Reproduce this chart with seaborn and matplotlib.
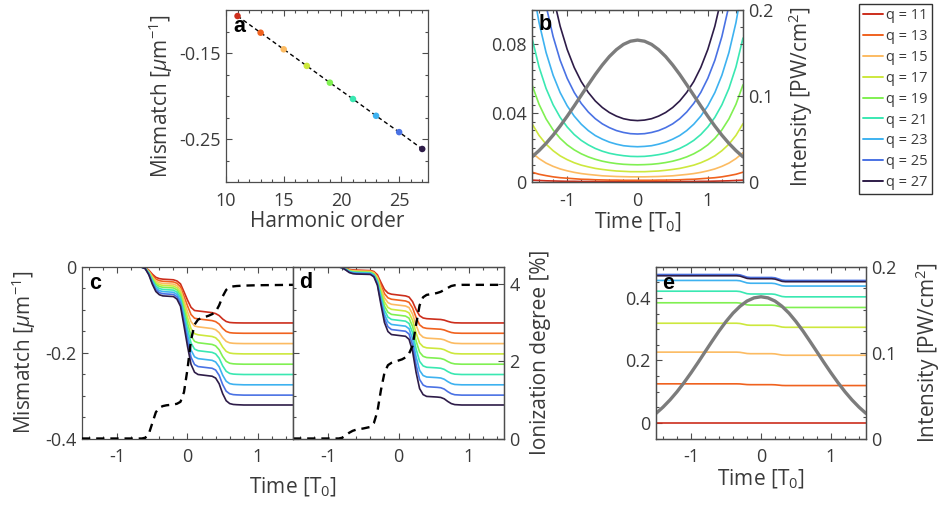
import matplotlib
matplotlib.use("Agg")
import matplotlib.pyplot as plt
import seaborn as sns
import pandas as pd
from matplotlib.lines import Line2D
from matplotlib.ticker import MultipleLocator, FixedLocator, FuncFormatter

# ---------------- data ----------------
harmonics = [11, 13, 15, 17, 19, 21, 23, 25, 27]
colors = ["#cc2e1c", "#f0621f", "#fcbb62", "#cde83d", "#80f052",
          "#3ae8b2", "#3eb2f0", "#4a72e4", "#2e1c48"]
legend_labels = ["q = 11", "q = 13", "q = 15", "q = 17", "q = 19",
                 "q = 21", "q = 23", "q = 25", "q = 27"]

# panel a : mismatch vs harmonic order
mismatch_a = [-0.107, -0.1264, -0.1457, -0.165, -0.1845, -0.2035, -0.223, -0.242, -0.2616]

# panel b : mismatch vs time (neutral), intensity
time_b = [-1.5, -1.4, -1.3, -1.2, -1.1, -1.0, -0.9, -0.8, -0.7, -0.6, -0.5, -0.4, -0.3, -0.2, -0.1,
          0.0, 0.1, 0.2, 0.3, 0.4, 0.5, 0.6, 0.7, 0.8, 0.9, 1.0, 1.1, 1.2, 1.3, 1.4, 1.5]
b_11 = [0.0011, 0.0009, 0.0007, 0.0006, 0.0005, 0.0004, 0.0004, 0.0003, 0.0003, 0.0003, 0.0002, 0.0002, 0.0002, 0.0002, 0.0002,
        0.0002, 0.0002, 0.0002, 0.0002, 0.0002, 0.0002, 0.0003, 0.0003, 0.0003, 0.0004, 0.0004, 0.0005, 0.0006, 0.0007, 0.0009, 0.0011]
b_13 = [0.0057, 0.0045, 0.0037, 0.0030, 0.0025, 0.0022, 0.0019, 0.0016, 0.0015, 0.0013, 0.0012, 0.0011, 0.0011, 0.0010, 0.0010,
        0.0010, 0.0010, 0.0010, 0.0011, 0.0011, 0.0012, 0.0013, 0.0015, 0.0016, 0.0019, 0.0022, 0.0025, 0.0030, 0.0037, 0.0045, 0.0057]
b_15 = [0.0170, 0.0136, 0.0110, 0.0091, 0.0076, 0.0065, 0.0056, 0.0049, 0.0044, 0.0040, 0.0036, 0.0034, 0.0032, 0.0031, 0.0030,
        0.0030, 0.0030, 0.0031, 0.0032, 0.0034, 0.0036, 0.0040, 0.0044, 0.0049, 0.0056, 0.0065, 0.0076, 0.0091, 0.0110, 0.0136, 0.0170]
b_17 = [0.0339, 0.0271, 0.0220, 0.0182, 0.0152, 0.0130, 0.0112, 0.0098, 0.0088, 0.0079, 0.0073, 0.0068, 0.0064, 0.0062, 0.0060,
        0.0060, 0.0060, 0.0062, 0.0064, 0.0068, 0.0073, 0.0079, 0.0088, 0.0098, 0.0112, 0.0130, 0.0152, 0.0182, 0.0220, 0.0271, 0.0339]
b_19 = [0.0565, 0.0452, 0.0367, 0.0303, 0.0254, 0.0216, 0.0187, 0.0164, 0.0146, 0.0132, 0.0121, 0.0113, 0.0107, 0.0103, 0.0101,
        0.0100, 0.0101, 0.0103, 0.0107, 0.0113, 0.0121, 0.0132, 0.0146, 0.0164, 0.0187, 0.0216, 0.0254, 0.0303, 0.0367, 0.0452, 0.0565]
b_21 = [0.0837, 0.0669, 0.0544, 0.0449, 0.0376, 0.0320, 0.0276, 0.0242, 0.0216, 0.0195, 0.0179, 0.0167, 0.0159, 0.0153, 0.0149,
        0.0148, 0.0149, 0.0153, 0.0159, 0.0167, 0.0179, 0.0195, 0.0216, 0.0242, 0.0276, 0.0320, 0.0376, 0.0449, 0.0544, 0.0669, 0.0837]
b_23 = [0.1159, 0.0927, 0.0753, 0.0621, 0.0520, 0.0443, 0.0383, 0.0336, 0.0299, 0.0270, 0.0249, 0.0232, 0.0220, 0.0211, 0.0207,
        0.0205, 0.0207, 0.0211, 0.0220, 0.0232, 0.0249, 0.0270, 0.0299, 0.0336, 0.0383, 0.0443, 0.0520, 0.0621, 0.0753, 0.0927, 0.1159]
b_25 = [0.1578, 0.1262, 0.1025, 0.0846, 0.0708, 0.0603, 0.0521, 0.0457, 0.0407, 0.0368, 0.0338, 0.0316, 0.0299, 0.0288, 0.0281,
        0.0279, 0.0281, 0.0288, 0.0299, 0.0316, 0.0338, 0.0368, 0.0407, 0.0457, 0.0521, 0.0603, 0.0708, 0.0846, 0.1025, 0.1262, 0.1578]
b_27 = [0.2019, 0.1615, 0.1312, 0.1082, 0.0906, 0.0771, 0.0666, 0.0584, 0.0521, 0.0471, 0.0433, 0.0404, 0.0383, 0.0368, 0.0360,
        0.0357, 0.0360, 0.0368, 0.0383, 0.0404, 0.0433, 0.0471, 0.0521, 0.0584, 0.0666, 0.0771, 0.0906, 0.1082, 0.1312, 0.1615, 0.2019]
intensity = [0.0292, 0.0365, 0.0449, 0.0544, 0.0650, 0.0764, 0.0884, 0.1008, 0.1131, 0.1251, 0.1361, 0.1459, 0.1539, 0.1600, 0.1637,
             0.1650, 0.1637, 0.1600, 0.1539, 0.1459, 0.1361, 0.1251, 0.1131, 0.1008, 0.0884, 0.0764, 0.0650, 0.0544, 0.0449, 0.0365, 0.0292]

# panel c : mismatch with ionization (case 1)
time_c = [-1.5, -0.7, -0.65, -0.6, -0.55, -0.5, -0.45, -0.4, -0.35, -0.3, -0.25, -0.2, -0.15, -0.1, -0.05, 0.0, 0.05,
          0.1, 0.15, 0.2, 0.25, 0.3, 0.35, 0.4, 0.45, 0.5, 0.55, 0.6, 0.65, 0.7, 0.8, 1.0, 1.5]
c_11 = [0, 0, -0.0006, -0.002, -0.0081, -0.0174, -0.0247, -0.0278, -0.029, -0.0295, -0.030, -0.0305, -0.0332, -0.0399, -0.0584, -0.0776, -0.0946,
        -0.1020, -0.103, -0.104, -0.105, -0.106, -0.107, -0.1092, -0.1138, -0.1218, -0.1276, -0.1299, -0.1305, -0.1308, -0.131, -0.131, -0.131]
c_13 = [0, 0, -0.0007, -0.0024, -0.0095, -0.0204, -0.0289, -0.0326, -0.034, -0.0345, -0.035, -0.0355, -0.0386, -0.0465, -0.0684, -0.0911, -0.1113,
        -0.1200, -0.1215, -0.1225, -0.1235, -0.1245, -0.1255, -0.1279, -0.1336, -0.1436, -0.1507, -0.1536, -0.1544, -0.1547, -0.155, -0.155, -0.155]
c_15 = [0, 0, -0.0008, -0.0027, -0.0109, -0.0234, -0.0332, -0.0374, -0.039, -0.0395, -0.040, -0.0405, -0.044, -0.0531, -0.0784, -0.1046, -0.1279,
        -0.138, -0.140, -0.141, -0.142, -0.143, -0.144, -0.1467, -0.1535, -0.1654, -0.1739, -0.1773, -0.1783, -0.1787, -0.179, -0.179, -0.179]
c_17 = [0, 0, -0.0009, -0.003, -0.0122, -0.0261, -0.037, -0.0418, -0.0435, -0.044, -0.0445, -0.045, -0.049, -0.0593, -0.0881, -0.118, -0.1444,
        -0.1559, -0.1585, -0.1595, -0.1605, -0.1615, -0.1625, -0.1655, -0.1734, -0.1872, -0.1971, -0.201, -0.2022, -0.2026, -0.203, -0.203, -0.203]
c_19 = [0, 0, -0.001, -0.0034, -0.0134, -0.0288, -0.0408, -0.0461, -0.048, -0.0485, -0.049, -0.0495, -0.0539, -0.0655, -0.0977, -0.1313, -0.1609,
        -0.1738, -0.177, -0.178, -0.179, -0.180, -0.181, -0.1843, -0.1933, -0.209, -0.2203, -0.2248, -0.2261, -0.2266, -0.227, -0.227, -0.227]
c_21 = [0, 0, -0.0011, -0.0037, -0.0148, -0.0318, -0.0451, -0.0509, -0.053, -0.0535, -0.054, -0.0545, -0.0593, -0.0721, -0.1077, -0.1448, -0.1776,
        -0.1918, -0.1955, -0.1965, -0.1975, -0.1985, -0.1995, -0.203, -0.2131, -0.2308, -0.2434, -0.2485, -0.250, -0.2505, -0.251, -0.251, -0.251]
c_23 = [0, 0, -0.0012, -0.0041, -0.0162, -0.0348, -0.0493, -0.0557, -0.058, -0.0585, -0.059, -0.0595, -0.0647, -0.0787, -0.1177, -0.1583, -0.1942,
        -0.2098, -0.214, -0.215, -0.216, -0.217, -0.218, -0.2218, -0.233, -0.2526, -0.2666, -0.2722, -0.2739, -0.2744, -0.275, -0.275, -0.275]
c_25 = [0, 0, -0.0013, -0.0044, -0.0176, -0.0378, -0.0536, -0.0605, -0.063, -0.0635, -0.064, -0.0645, -0.0701, -0.0853, -0.1277, -0.1718, -0.2108,
        -0.2277, -0.2325, -0.2335, -0.2345, -0.2355, -0.2365, -0.2406, -0.2529, -0.2744, -0.2898, -0.2959, -0.2978, -0.2984, -0.299, -0.299, -0.299]
c_27 = [0, 0, -0.0014, -0.0048, -0.019, -0.0408, -0.0578, -0.0653, -0.068, -0.0685, -0.069, -0.0695, -0.0755, -0.092, -0.1377, -0.1853, -0.2274,
        -0.2457, -0.251, -0.252, -0.253, -0.254, -0.255, -0.2593, -0.2725, -0.2956, -0.3121, -0.3187, -0.3207, -0.3213, -0.322, -0.322, -0.322]
ion_c = [0, 0, 0, 0.02, 0.12, 0.4, 0.68, 0.8, 0.84, 0.86, 0.87, 0.88, 0.9, 0.95, 1.2, 1.8, 2.55,
         2.95, 3.08, 3.12, 3.15, 3.18, 3.22, 3.28, 3.45, 3.68, 3.85, 3.92, 3.94, 3.95, 3.96, 3.97, 3.98]

# panel d : mismatch with ionization (case 2)
time_d = [-1.5, -0.9, -0.85, -0.8, -0.75, -0.7, -0.65, -0.6, -0.5, -0.4, -0.35, -0.3, -0.25, -0.2, -0.15, -0.1, -0.05, 0.0,
          0.05, 0.1, 0.15, 0.2, 0.25, 0.3, 0.35, 0.4, 0.5, 0.55, 0.6, 0.65, 0.7, 0.75, 0.8, 0.9, 1.5]
d_11 = [0, 0, -0.0002, -0.0012, -0.0036, -0.0064, -0.0076, -0.008, -0.0085, -0.009, -0.0112, -0.0189, -0.0365, -0.053, -0.0613, -0.064, -0.065, -0.066,
        -0.067, -0.068, -0.0707, -0.0813, -0.0998, -0.1141, -0.1194, -0.121, -0.122, -0.1225, -0.1229, -0.1244, -0.1272, -0.1295, -0.1306, -0.131, -0.131]
d_13 = [0, 0, -0.0003, -0.0014, -0.0041, -0.0072, -0.0086, -0.009, -0.0095, -0.010, -0.0126, -0.0218, -0.0429, -0.0626, -0.0725, -0.0758, -0.0768, -0.0778,
        -0.0788, -0.0798, -0.083, -0.0958, -0.1181, -0.1353, -0.1417, -0.1436, -0.1446, -0.1451, -0.1456, -0.1473, -0.1505, -0.1532, -0.1545, -0.155, -0.155]
d_15 = [0, 0, -0.0003, -0.0015, -0.0045, -0.008, -0.0095, -0.010, -0.0105, -0.011, -0.0141, -0.0248, -0.0493, -0.0722, -0.0837, -0.0875, -0.0885, -0.0895,
        -0.0905, -0.0915, -0.0952, -0.1102, -0.1364, -0.1566, -0.1641, -0.1663, -0.1673, -0.1678, -0.1684, -0.1703, -0.174, -0.177, -0.1784, -0.179, -0.179]
d_17 = [0, 0, -0.0003, -0.0017, -0.0052, -0.0092, -0.0109, -0.0115, -0.012, -0.0125, -0.016, -0.0281, -0.0559, -0.0819, -0.095, -0.0993, -0.1003, -0.1013,
        -0.1023, -0.1033, -0.1076, -0.1247, -0.1547, -0.1778, -0.1863, -0.1889, -0.1899, -0.1904, -0.191, -0.1932, -0.1973, -0.2007, -0.2024, -0.203, -0.203]
d_19 = [0, 0, -0.0004, -0.0019, -0.0056, -0.010, -0.0119, -0.0125, -0.013, -0.0135, -0.0174, -0.031, -0.0623, -0.0915, -0.1061, -0.111, -0.112, -0.113,
        -0.114, -0.115, -0.1198, -0.1391, -0.1729, -0.199, -0.2086, -0.2115, -0.2125, -0.213, -0.2137, -0.2161, -0.2207, -0.2245, -0.2263, -0.227, -0.227]
d_21 = [0, 0, -0.0004, -0.002, -0.0061, -0.0108, -0.0128, -0.0135, -0.014, -0.0145, -0.0188, -0.034, -0.0687, -0.1011, -0.1174, -0.1228, -0.1238, -0.1248,
        -0.1258, -0.1268, -0.1322, -0.1536, -0.1912, -0.2203, -0.2309, -0.2341, -0.2351, -0.2356, -0.2364, -0.239, -0.2441, -0.2482, -0.2502, -0.251, -0.251]
d_23 = [0, 0, -0.0004, -0.0022, -0.0065, -0.0116, -0.0138, -0.0145, -0.015, -0.0155, -0.0203, -0.0369, -0.075, -0.1107, -0.1286, -0.1345, -0.1355, -0.1365,
        -0.1375, -0.1385, -0.1444, -0.1681, -0.2095, -0.2414, -0.2533, -0.2568, -0.2578, -0.2583, -0.2591, -0.262, -0.2675, -0.272, -0.2742, -0.275, -0.275]
d_25 = [0, 0, -0.0005, -0.0024, -0.0072, -0.0128, -0.0152, -0.016, -0.0165, -0.017, -0.0222, -0.0403, -0.0817, -0.1204, -0.1398, -0.1463, -0.1473, -0.1483,
        -0.1493, -0.1503, -0.1568, -0.1826, -0.2278, -0.2626, -0.2755, -0.2794, -0.2804, -0.2809, -0.2818, -0.2849, -0.2909, -0.2957, -0.2981, -0.299, -0.299]
d_27 = [0, 0, -0.0005, -0.0026, -0.0077, -0.0136, -0.0162, -0.017, -0.0175, -0.018, -0.0236, -0.0432, -0.088, -0.130, -0.151, -0.158, -0.159, -0.160,
        -0.161, -0.162, -0.169, -0.197, -0.246, -0.2838, -0.2978, -0.302, -0.303, -0.3035, -0.3044, -0.3076, -0.3137, -0.3187, -0.3211, -0.322, -0.322]
ion_d = [0, 0, 0, 0.02, 0.08, 0.15, 0.2, 0.23, 0.26, 0.3, 0.4, 0.7, 1.25, 1.7, 1.9, 1.96, 1.99, 2.02,
         2.05, 2.1, 2.2, 2.4, 2.95, 3.45, 3.66, 3.72, 3.75, 3.77, 3.8, 3.85, 3.9, 3.95, 3.97, 3.98, 3.98]

# panel e : mismatch with pressure compensation
time_e = [-1.5, -0.35, -0.3, -0.25, -0.2, -0.15, 0.15, 0.2, 0.25, 0.3, 0.35, 1.5]
e_11 = [0, 0, 0, 0, 0, 0, 0, 0, 0, 0, 0, 0]
e_13 = [0.125, 0.125, 0.1247, 0.1236, 0.1226, 0.1223, 0.1223, 0.1219, 0.1209, 0.1198, 0.1195, 0.1195]
e_15 = [0.2265, 0.2265, 0.2259, 0.224, 0.2221, 0.2215, 0.2215, 0.2209, 0.219, 0.2171, 0.2165, 0.2165]
e_17 = [0.319, 0.319, 0.3182, 0.3158, 0.3133, 0.3125, 0.3125, 0.3117, 0.3093, 0.3068, 0.306, 0.306]
e_19 = [0.3845, 0.3845, 0.3836, 0.3808, 0.3779, 0.377, 0.377, 0.3761, 0.3733, 0.3704, 0.3695, 0.3695]
e_21 = [0.4216, 0.4216, 0.4205, 0.4171, 0.4136, 0.4126, 0.4126, 0.4115, 0.408, 0.4046, 0.4035, 0.4035]
e_23 = [0.456, 0.456, 0.4549, 0.4515, 0.4481, 0.447, 0.447, 0.4459, 0.4425, 0.4391, 0.438, 0.438]
e_25 = [0.475, 0.475, 0.4739, 0.4703, 0.4666, 0.4655, 0.4655, 0.4644, 0.4608, 0.4571, 0.456, 0.456]
e_27 = [0.471, 0.471, 0.4699, 0.4663, 0.4626, 0.4615, 0.4615, 0.4604, 0.4568, 0.4531, 0.452, 0.452]

curves_b = [b_11, b_13, b_15, b_17, b_19, b_21, b_23, b_25, b_27]
curves_c = [c_11, c_13, c_15, c_17, c_19, c_21, c_23, c_25, c_27]
curves_d = [d_11, d_13, d_15, d_17, d_19, d_21, d_23, d_25, d_27]
curves_e = [e_11, e_13, e_15, e_17, e_19, e_21, e_23, e_25, e_27]

# ---------------- style ----------------
sns.set_theme(style="ticks")
plt.rcParams["font.family"] = ["Open Sans", "DejaVu Sans"]
plt.rcParams["mathtext.fontset"] = "custom"
plt.rcParams["mathtext.rm"] = "Open Sans"
plt.rcParams["mathtext.it"] = "Open Sans:italic"
plt.rcParams["mathtext.bf"] = "Open Sans:bold"
plt.rcParams["axes.unicode_minus"] = False

TXT = "#3a3a3a"
SP = "#4d4d4d"
TICK = 13
LAB = 15
GRAY = "#7c7c7c"
palette = dict(zip(harmonics, colors))
fmt = FuncFormatter(lambda v, p: "%g" % round(v, 6))

fig = plt.figure(figsize=(9.45, 5.11), dpi=100)
W, H = 945.0, 511.0


def box(x0, y0, x1, y1):
    return [x0 / W, 1 - y1 / H, (x1 - x0) / W, (y1 - y0) / H]


def long_df(times, curves):
    return pd.concat([pd.DataFrame({"t": times, "v": c, "q": q})
                      for q, c in zip(harmonics, curves)], ignore_index=True)


def style(ax, left=True, right=True, top=True, bottom=True):
    for s in ax.spines.values():
        s.set_color(SP)
        s.set_linewidth(0.9)
    ax.tick_params(which="both", direction="in", left=left, right=right, top=top, bottom=bottom,
                   color=SP, labelcolor=TXT, labelsize=TICK, width=0.8)
    ax.tick_params(axis="x", pad=7)
    ax.tick_params(axis="y", pad=4)
    ax.tick_params(which="major", length=4)
    ax.tick_params(which="minor", length=2.5)
    ax.xaxis.set_major_formatter(fmt)
    ax.yaxis.set_major_formatter(fmt)


def time_axis(ax):
    ax.set_xlim(-1.5, 1.5)
    ax.xaxis.set_major_locator(FixedLocator([-1, 0, 1]))
    ax.xaxis.set_minor_locator(MultipleLocator(0.2))


def letter(ax, x, y, s):
    ax.text(x, y, s, transform=ax.transAxes, fontsize=15.5, fontweight="bold",
            family="Liberation Sans", ha="center", va="center", color="black", zorder=10)


# ---------------- panel a ----------------
ax_a = fig.add_axes(box(226, 10, 428, 182))
df_a = pd.DataFrame({"q": harmonics, "m": mismatch_a})
sns.lineplot(data=df_a, x="q", y="m", color="black", linestyle=(0, (3, 2.2)), linewidth=1.0, ax=ax_a)
sns.scatterplot(data=df_a, x="q", y="m", hue="q", palette=palette, s=22, edgecolor="none",
                legend=False, ax=ax_a, zorder=3)
ax_a.set_xlim(10, 27.5)
ax_a.set_ylim(-0.3, -0.1)
ax_a.xaxis.set_major_locator(FixedLocator([10, 15, 20, 25]))
ax_a.xaxis.set_minor_locator(MultipleLocator(1))
ax_a.yaxis.set_major_locator(FixedLocator([-0.15, -0.25]))
ax_a.yaxis.set_minor_locator(MultipleLocator(0.025))
style(ax_a)
ax_a.set_xlabel("Harmonic order", fontsize=LAB, color=TXT, labelpad=1)
ax_a.set_ylabel("Mismatch [$\\mu$m$^{-1}$]", fontsize=LAB, color=TXT, labelpad=3)
letter(ax_a, 0.064, 0.905, "a")

# ---------------- panel b ----------------
ax_b = fig.add_axes(box(532, 10, 743, 182))
sns.lineplot(data=long_df(time_b, curves_b), x="t", y="v", hue="q", palette=palette,
             linewidth=1.2, legend=False, ax=ax_b, sort=False, estimator=None)
time_axis(ax_b)
ax_b.set_ylim(0, 0.1)
ax_b.yaxis.set_major_locator(FixedLocator([0, 0.04, 0.08]))
ax_b.yaxis.set_minor_locator(MultipleLocator(0.005))
style(ax_b, right=False)
ax_b.set_xlabel("Time [T$_0$]", fontsize=LAB, color=TXT, labelpad=1)
ax_b.set_ylabel("")
tb = ax_b.twinx()
sns.lineplot(x=time_b, y=intensity, color=GRAY, linewidth=2.4, ax=tb)
tb.set_ylim(0, 0.2)
tb.yaxis.set_major_locator(FixedLocator([0, 0.1, 0.2]))
tb.yaxis.set_minor_locator(MultipleLocator(0.02))
style(tb, left=False, top=False, bottom=False)
tb.set_ylabel("Intensity [PW/cm$^2$]", fontsize=LAB, color=TXT, labelpad=9)
letter(ax_b, 0.064, 0.915, "b")

# ---------------- panel c ----------------
ax_c = fig.add_axes(box(82, 266.7, 293, 438.5))
sns.lineplot(data=long_df(time_c, curves_c), x="t", y="v", hue="q", palette=palette,
             linewidth=1.2, legend=False, ax=ax_c, sort=False, estimator=None)
time_axis(ax_c)
ax_c.set_ylim(-0.4, 0)
ax_c.yaxis.set_major_locator(FixedLocator([-0.4, -0.2, 0]))
ax_c.yaxis.set_minor_locator(MultipleLocator(0.05))
style(ax_c)
ax_c.set_xlabel("")
ax_c.set_ylabel("Mismatch [$\\mu$m$^{-1}$]", fontsize=LAB, color=TXT, labelpad=5)
tc = ax_c.twinx()
sns.lineplot(x=time_c, y=ion_c, color="black", linestyle=(0, (3.5, 2.5)), linewidth=1.7, ax=tc)
tc.set_ylim(0, 4.45)
tc.set_yticks([])
tc.tick_params(which="both", right=False)
for s in tc.spines.values():
    s.set_visible(False)
letter(ax_c, 0.063, 0.903, "c")

# ---------------- panel d ----------------
ax_d = fig.add_axes(box(293, 266.7, 504, 438.5))
sns.lineplot(data=long_df(time_d, curves_d), x="t", y="v", hue="q", palette=palette,
             linewidth=1.2, legend=False, ax=ax_d, sort=False, estimator=None)
time_axis(ax_d)
ax_d.set_ylim(-0.4, 0)
ax_d.yaxis.set_major_locator(FixedLocator([-0.4, -0.2, 0]))
ax_d.yaxis.set_minor_locator(MultipleLocator(0.05))
style(ax_d)
ax_d.tick_params(axis="y", labelleft=False)
ax_d.set_xlabel("")
ax_d.set_ylabel("")
td = ax_d.twinx()
sns.lineplot(x=time_d, y=ion_d, color="black", linestyle=(0, (3.5, 2.5)), linewidth=1.7, ax=td)
td.set_ylim(0, 4.45)
td.yaxis.set_major_locator(FixedLocator([0, 2, 4]))
style(td, left=False, top=False, bottom=False)
td.set_ylabel("Ionization degree [%]", fontsize=LAB, color=TXT, labelpad=7)
letter(ax_d, 0.061, 0.907, "d")
fig.text(293 / W, 1 - 487 / H, "Time [T$_0$]", fontsize=LAB, color=TXT, ha="center", va="center")

# ---------------- panel e ----------------
ax_e = fig.add_axes(box(656, 266.7, 866, 438.5))
sns.lineplot(data=long_df(time_e, curves_e), x="t", y="v", hue="q", palette=palette,
             linewidth=1.2, legend=False, ax=ax_e, sort=False, estimator=None)
time_axis(ax_e)
ax_e.set_ylim(-0.05, 0.5)
ax_e.yaxis.set_major_locator(FixedLocator([0, 0.2, 0.4]))
ax_e.yaxis.set_minor_locator(MultipleLocator(0.05))
style(ax_e, right=False)
ax_e.set_xlabel("Time [T$_0$]", fontsize=LAB, color=TXT, labelpad=1)
ax_e.set_ylabel("")
te = ax_e.twinx()
sns.lineplot(x=time_b, y=intensity, color=GRAY, linewidth=2.4, ax=te)
te.set_ylim(0, 0.2)
te.yaxis.set_major_locator(FixedLocator([0, 0.1, 0.2]))
te.yaxis.set_minor_locator(MultipleLocator(0.025))
style(te, left=False, top=False, bottom=False)
te.set_ylabel("Intensity [PW/cm$^2$]", fontsize=LAB, color=TXT, labelpad=12)
letter(ax_e, 0.059, 0.901, "e")

# ---------------- legend ----------------
handles = [Line2D([], [], color=c, linewidth=1.4) for c in colors]
fig.legend(handles, legend_labels, loc="upper left", bbox_to_anchor=(859 / W, 1 - 4 / H),
           frameon=True, fancybox=False, edgecolor="#333333", fontsize=10.5,
           handlelength=1.35, handletextpad=0.2, labelspacing=0.4, borderpad=0.3,
           borderaxespad=0, labelcolor=TXT, framealpha=1)

fig.savefig("out.png", dpi=100)
